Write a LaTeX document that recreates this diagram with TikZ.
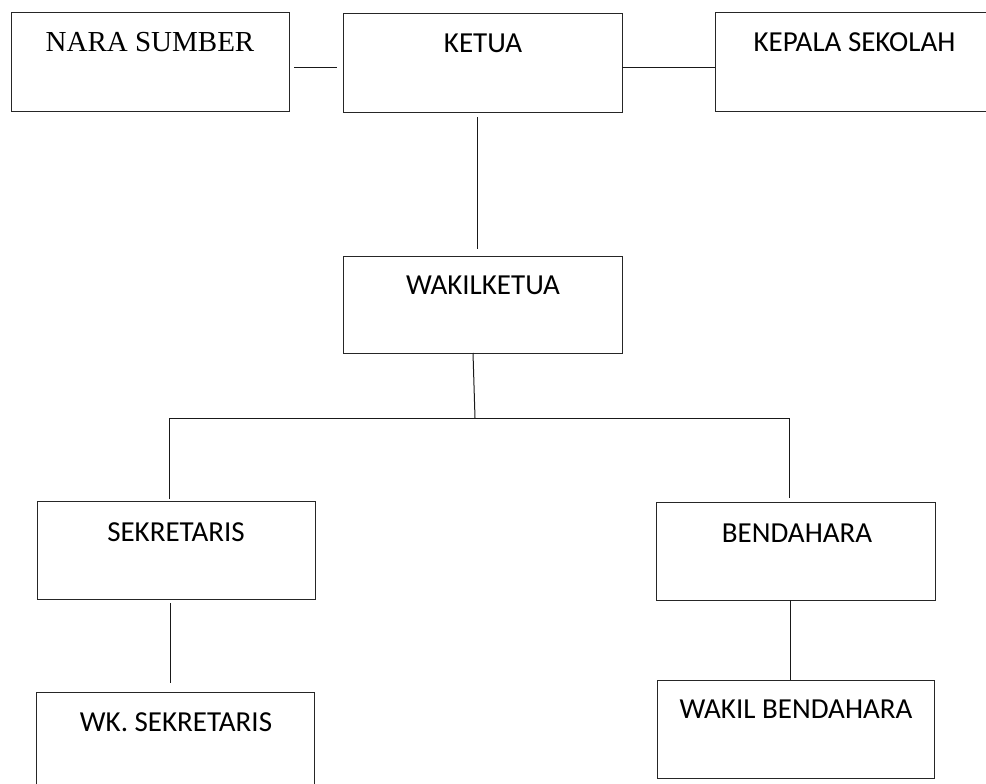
\documentclass[tikz,border=0pt]{standalone}
\usepackage{fontspec}
\setmainfont{Carlito}
\newfontfamily\seriffont{Liberation Serif}
\begin{document}
\begin{tikzpicture}[x=1pt,y=1pt,
  box/.style={draw=black!85, line width=1pt, rectangle, anchor=north west, inner sep=0pt, outer sep=0pt},
  lbl/.style={anchor=base, inner sep=0pt, font=\fontsize{29}{34}\selectfont},
  conn/.style={draw=black!90, line width=1pt}]
\clip (0,0) rectangle (986,-784);
\fill[white] (0,0) rectangle (986,-784);
% boxes
\node[box, minimum width=278pt, minimum height=98pt] (nara)   at (11,-13)  {};
\node[box, minimum width=279pt, minimum height=98pt] (ketua)  at (343,-14) {};
\node[box, minimum width=279pt, minimum height=98pt] (kepala) at (715,-13) {};
\node[box, minimum width=279pt, minimum height=97pt] (wakil)  at (343,-256) {};
\node[box, minimum width=278pt, minimum height=98pt] (sek)    at (37,-501) {};
\node[box, minimum width=279pt, minimum height=98pt] (ben)    at (656,-502) {};
\node[box, minimum width=278pt, minimum height=98pt] (wks)    at (36,-692) {};
\node[box, minimum width=277pt, minimum height=98pt] (wkb)    at (657,-680) {};
% labels
\node[lbl, font=\seriffont\fontsize{29}{34}\selectfont] (tnara) at (150,-52) {NARA SUMBER};
\node[lbl] (tketua)  at (483,-53)  {KETUA};
\node[lbl] (tkepala) at (854.5,-52) {KEPALA SEKOLAH};
\node[lbl] (twakil)  at (483,-294) {WAKILKETUA};
\node[lbl] (tsek)    at (176,-541) {SEKRETARIS};
\node[lbl] (tben)    at (797,-542) {BENDAHARA};
\node[lbl] (twks)    at (176,-731) {WK. SEKRETARIS};
\node[lbl] (twkb)    at (796,-718) {WAKIL BENDAHARA};
% junctions
\coordinate (jl) at (169,-418);
\coordinate (jr) at (789,-418);
\coordinate (jm) at (475,-418);
% connectors
\draw[conn] ([xshift=5pt,yshift=-6pt]nara.east) -- ([xshift=-6pt,yshift=-5pt]ketua.west);
\draw[conn] ([yshift=-5pt]ketua.east) -- ([yshift=-6pt]kepala.west);
\draw[conn] ([xshift=-5.5pt,yshift=-5pt]ketua.south) -- ([xshift=-5.5pt,yshift=7pt]wakil.north);
\draw[conn] ([xshift=-9.5pt]wakil.south) -- (jm);
\draw[conn, shorten <=2pt, shorten >=4pt] (jl |- sek.north) -- (jl) -- (jr) -- (jr |- ben.north);
\draw[conn, shorten <=4pt, shorten >=9pt] ([xshift=-6pt]sek.south) -- ([xshift=-5pt]wks.north);
\draw[conn] ([xshift=-5.5pt]ben.south) -- ([xshift=-5.5pt]wkb.north);
\end{tikzpicture}
\end{document}
